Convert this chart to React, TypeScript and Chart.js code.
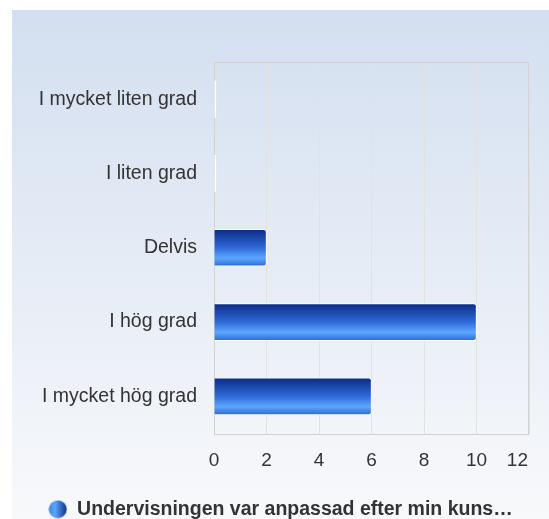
import React, { useEffect, useRef } from "react";
import { Chart, registerables } from "chart.js";

Chart.register(...registerables);

const categories = [
  "I mycket liten grad",
  "I liten grad",
  "Delvis",
  "I hög grad",
  "I mycket hög grad",
];
const seriesValues = [0, 0, 2, 10, 6];
const seriesLabel = "Undervisningen var anpassad efter min kuns…";
const xTickValues = [0, 2, 4, 6, 8, 10, 12];

const FONT = "'Liberation Sans', Arial, sans-serif";
const TEXT = "#333333";

export default function App() {
  const ref = useRef<HTMLCanvasElement>(null);

  useEffect(() => {
    const canvas = ref.current!;

    const icon = document.createElement("canvas");
    icon.width = 19;
    icon.height = 19;
    const ic = icon.getContext("2d")!;
    const ig = ic.createLinearGradient(0, 0, 19, 0);
    ig.addColorStop(0, "#3b80ea");
    ig.addColorStop(0.35, "#5ca6ff");
    ig.addColorStop(1, "#0b2a85");
    ic.fillStyle = ig;
    ic.beginPath();
    ic.arc(9.5, 9.5, 9, 0, Math.PI * 2);
    ic.fill();

    const bgPlugin = {
      id: "bg",
      beforeDraw(chart: any) {
        const c = chart.ctx;
        const g = c.createLinearGradient(0, 10, 0, 519);
        g.addColorStop(0, "#d3dff0");
        g.addColorStop(1, "#f8f9fb");
        c.save();
        c.fillStyle = g;
        c.fillRect(12, 10, 537, 509);
        c.restore();
      },
      beforeDatasetsDraw(chart: any) {
        const { left, top, right, bottom } = chart.chartArea;
        const c = chart.ctx;
        c.save();
        c.strokeStyle = "#d2d2d2";
        c.lineWidth = 1;
        c.strokeRect(
          Math.round(left) + 0.5,
          Math.round(top) + 0.5,
          Math.round(right) - Math.round(left) - 1,
          Math.round(bottom) - Math.round(top)
        );
        c.restore();
      },
      afterDraw(chart: any) {
        const xs = chart.scales.x;
        const c = chart.ctx;
        c.save();
        c.font = `19px ${FONT}`;
        c.fillStyle = TEXT;
        c.textBaseline = "middle";
        const n = xs.ticks.length;
        xs.ticks.forEach((t: any, i: number) => {
          const px = xs.getPixelForValue(t.value);
          c.textAlign = i === n - 1 ? "right" : "center";
          c.fillText(String(t.value), i === n - 1 ? px - 1 : px, 461);
        });
        c.restore();
      },
    };

    const chart = new Chart(canvas, {
      type: "bar",
      data: {
        labels: categories,
        datasets: [
          {
            label: seriesLabel,
            data: seriesValues,
            barThickness: 37,
            minBarLength: 2,
            borderColor: "#ffffff",
            borderWidth: 1,
            borderSkipped: "start",
            borderRadius: 3,
            backgroundColor: (ctx: any) => {
              const chart = ctx.chart;
              if (ctx.raw === 0) return "#ffffff";
              const ys = chart.scales?.y;
              if (!ys || ctx.dataIndex === undefined) return "#2f6ad8";
              const cy = ys.getPixelForValue(ctx.dataIndex);
              if (!isFinite(cy)) return "#2f6ad8";
              const g = chart.ctx.createLinearGradient(0, cy - 18.5, 0, cy + 18.5);
              g.addColorStop(0, "#0b2a85");
              g.addColorStop(0.5, "#2f6ad8");
              g.addColorStop(0.78, "#5ca6ff");
              g.addColorStop(1, "#2c6bd3");
              return g;
            },
          },
        ],
      },
      options: {
        indexAxis: "y",
        responsive: false,
        animation: false,
        layout: { padding: { left: 12, top: 62, right: 0, bottom: -10 } },
        plugins: {
          tooltip: { enabled: false },
          legend: {
            position: "bottom",
            labels: {
              usePointStyle: true,
              pointStyle: icon as any,
              boxWidth: 19,
              boxHeight: 19,
              padding: 2,
              color: TEXT,
              font: { family: FONT, size: 19.5, weight: "bold" },
            },
          },
        },
        scales: {
          x: {
            min: 0,
            max: 12,
            afterBuildTicks(s: any) {
              s.ticks = xTickValues.map((v) => ({ value: v }));
            },
            afterFit(s: any) {
              s.height = 64;
            },
            ticks: { display: false },
            grid: { color: "#e2e2e2", drawTicks: false },
            border: { display: false },
          },
          y: {
            afterFit(s: any) {
              s.width = 202;
            },
            ticks: {
              padding: 17,
              color: TEXT,
              font: { family: FONT, size: 19.5 },
            },
            grid: { display: false, drawTicks: false },
            border: { display: false },
          },
          yRight: {
            axis: "y",
            type: "category",
            position: "right",
            afterFit(s: any) {
              s.width = 20;
            },
            ticks: { display: false },
            grid: { display: false, drawTicks: false },
            border: { display: false },
          },
        } as any,
      },
      plugins: [bgPlugin],
    } as any);

    return () => chart.destroy();
  }, []);

  return (
    <div style={{ position: "fixed", left: 0, top: 0, width: 549, height: 519 }}>
      <canvas ref={ref} width={549} height={519} />
    </div>
  );
}
